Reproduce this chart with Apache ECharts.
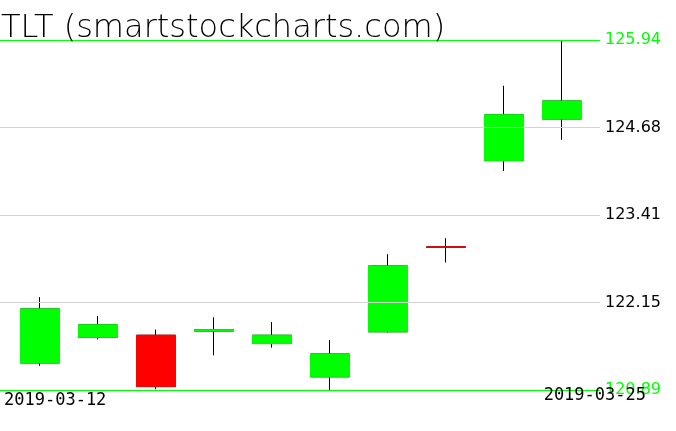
<!DOCTYPE html>
<html>
<head>
<meta charset="utf-8">
<script src="https://cdn.jsdelivr.net/npm/echarts@6/dist/echarts.min.js"></script>
<style>
html,body{margin:0;padding:0;background:#fff;}
#c{width:676px;height:431px;}
</style>
</head>
<body>
<div id="c"></div>
<script>
const title = 'TLT (smartstockcharts.com)';
const dates = ['2019-03-12','2019-03-13','2019-03-14','2019-03-15','2019-03-18','2019-03-19','2019-03-20','2019-03-21','2019-03-22','2019-03-25'];
const openV  = [121.28, 121.65, 121.68, 121.74, 121.56, 121.08, 121.73, 122.955, 124.20, 124.80];
const closeV = [122.06, 121.83, 120.94, 121.76, 121.68, 121.41, 122.68, 122.95, 124.86, 125.06];
const lowV   = [121.24, 121.62, 120.90, 121.39, 121.50, 120.89, 121.72, 122.73, 124.05, 124.50];
const highV  = [122.23, 121.96, 121.76, 121.94, 121.87, 121.61, 122.85, 123.08, 125.28, 125.94];
const tickLabels = ['120.89', '122.15', '123.41', '124.68', '125.94'];

const yMin = parseFloat(tickLabels[0]);
const yMax = parseFloat(tickLabels[tickLabels.length - 1]);
const GREEN = '#00ff00', RED = '#ff0000', GRAY = '#d3d3d3';

const wickData = dates.map((d, i) => [openV[i], closeV[i], lowV[i], highV[i]]);
const bodyData = dates.map((d, i) => [openV[i], closeV[i], Math.min(openV[i], closeV[i]), Math.max(openV[i], closeV[i])]);

const chart = echarts.init(document.getElementById('c'), null, {renderer: 'canvas'});
chart.setOption({
  animation: false,
  backgroundColor: '#fff',
  title: [
    {text: title, left: 1, top: 13, padding: 0,
     textStyle: {fontFamily: 'DejaVu Sans', fontSize: 32, fontWeight: 200, color: '#000'}},
    {text: dates[0], left: 4, top: 392, padding: 0,
     textStyle: {fontFamily: 'DejaVu Sans Mono', fontSize: 17, fontWeight: 'normal', color: '#000'}},
    {text: dates[dates.length - 1], right: 30, top: 387, padding: 0,
     textStyle: {fontFamily: 'DejaVu Sans Mono', fontSize: 17, fontWeight: 'normal', color: '#000'}}
  ],
  grid: [
    {left: 0, right: 76, top: 40, bottom: 41},
    {left: 11, right: 85, top: 40, bottom: 41}
  ],
  xAxis: [
    {type: 'value', gridIndex: 0, show: false, min: 0, max: 1},
    {type: 'category', gridIndex: 1, data: dates, boundaryGap: true, show: false}
  ],
  yAxis: [
    {type: 'value', gridIndex: 0, position: 'right', min: 0, max: tickLabels.length - 1, interval: 1, z: 5,
     axisLine: {show: false}, axisTick: {show: false},
     splitLine: {show: true, showMinLine: true, showMaxLine: true,
       lineStyle: {width: 1, color: tickLabels.map((t, i) => (i === 0 || i === tickLabels.length - 1) ? GREEN : GRAY)}},
     axisLabel: {show: true, margin: 5, padding: [0, 0, 10, 0],
       fontFamily: 'DejaVu Sans', fontSize: 16,
       formatter: v => tickLabels[Math.round(v)],
       color: (v) => (Math.round(v) === 0 || Math.round(v) === tickLabels.length - 1) ? GREEN : '#000'}},
    {type: 'value', gridIndex: 1, min: yMin, max: yMax, show: false, scale: true,
     splitLine: {show: false}}
  ],
  series: [
    {type: 'candlestick', xAxisIndex: 1, yAxisIndex: 1, data: wickData, barWidth: 40, z: 2,
     itemStyle: {color: 'transparent', color0: 'transparent', borderColor: '#000', borderColor0: '#000', borderColorDoji: '#000', borderWidth: 1}},
    {type: 'candlestick', xAxisIndex: 1, yAxisIndex: 1, data: bodyData, barWidth: 40, z: 2,
     itemStyle: {color: GREEN, color0: RED, borderColor: GREEN, borderColor0: RED, borderWidth: 1}}
  ]
});
</script>
</body>
</html>
